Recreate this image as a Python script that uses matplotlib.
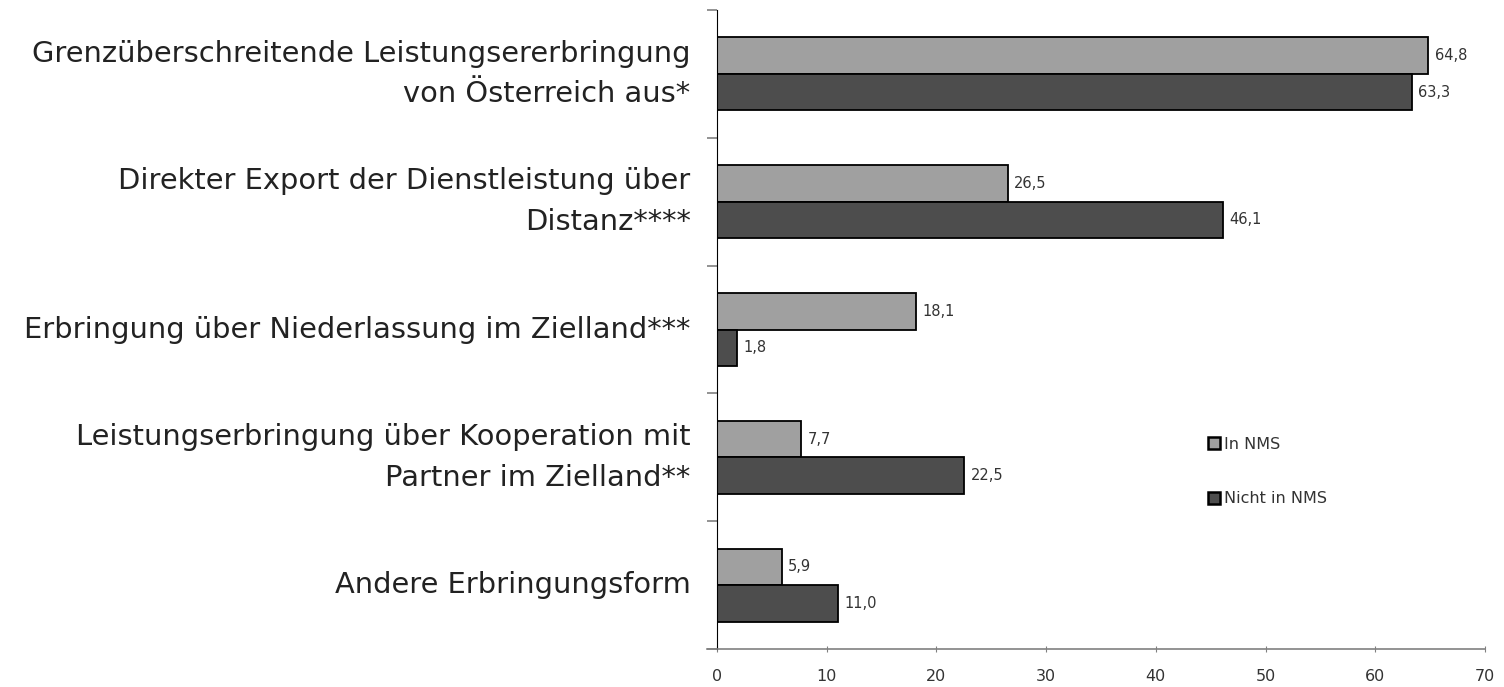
import matplotlib.pyplot as plt
import numpy as np

# Daten
kategorien = ['Grenzüberschreitende Leistungsererbringung\nvon Österreich aus*',
              'Direkter Export der Dienstleistung über\nDistanz****',
              'Erbringung über Niederlassung im Zielland***',
              'Leistungserbringung über Kooperation mit\nPartner im Zielland**',
              'Andere Erbringungsform']
in_nms = [64.8, 26.5, 18.1, 7.7, 5.9]
nicht_in_nms = [63.3, 46.1, 1.8, 22.5, 11.0]
serien = ['In NMS', 'Nicht in NMS']
farben = ['#A0A0A0', '#4D4D4D']

plt.rcParams['font.family'] = ['DejaVu Sans']

fig = plt.figure(figsize=(15.04, 6.87), dpi=100)
ax = fig.add_axes([0.4767, 0.0553, 0.5107, 0.9301])

n = len(kategorien)
y = np.arange(n)
h = 0.286

b1 = ax.barh(y - h / 2, in_nms, height=h, color=farben[0], edgecolor='black', linewidth=1.3, label=serien[0])
b2 = ax.barh(y + h / 2, nicht_in_nms, height=h, color=farben[1], edgecolor='black', linewidth=1.3, label=serien[1])

for bars, vals in ((b1, in_nms), (b2, nicht_in_nms)):
    for b, v in zip(bars, vals):
        ax.text(v + 0.6, b.get_y() + b.get_height() / 2, f'{v:.1f}'.replace('.', ','),
                va='center', ha='left', fontsize=10.5, color='#333333')

ax.set_ylim(n - 0.5, -0.5)
ax.set_xlim(0, 70)
ax.set_xticks(range(0, 71, 10))
ax.tick_params(axis='x', labelsize=11.5, length=5, direction='inout', color='#808080', pad=12,
               labelcolor='#333333')

# Kategorie-Trennstriche links
ax.set_yticks(np.arange(-0.5, n, 1))
ax.set_yticklabels([])
ax.tick_params(axis='y', length=7, color='#808080', width=1.2)
for i, k in enumerate(kategorien):
    ax.text(-2.4, i, k, ha='right', va='center', fontsize=20.8, color='#222222', linespacing=1.58)

ax.spines['top'].set_visible(False)
ax.spines['right'].set_visible(False)
ax.spines['left'].set_color('black')
ax.spines['bottom'].set_color('#808080')
ax.spines['bottom'].set_linewidth(1.2)
ax.spines['bottom'].set_bounds(-0.9, 70)

leg = ax.legend(loc='upper left', bbox_to_anchor=(0.62, 0.355), frameon=False, fontsize=11.5,
                handlelength=0.8, handleheight=0.8, handletextpad=0.25, labelspacing=2.5)
for p in leg.get_patches():
    p.set_linewidth(1.8)
for t in leg.get_texts():
    t.set_color('#333333')

plt.savefig('out.png', dpi=100)
